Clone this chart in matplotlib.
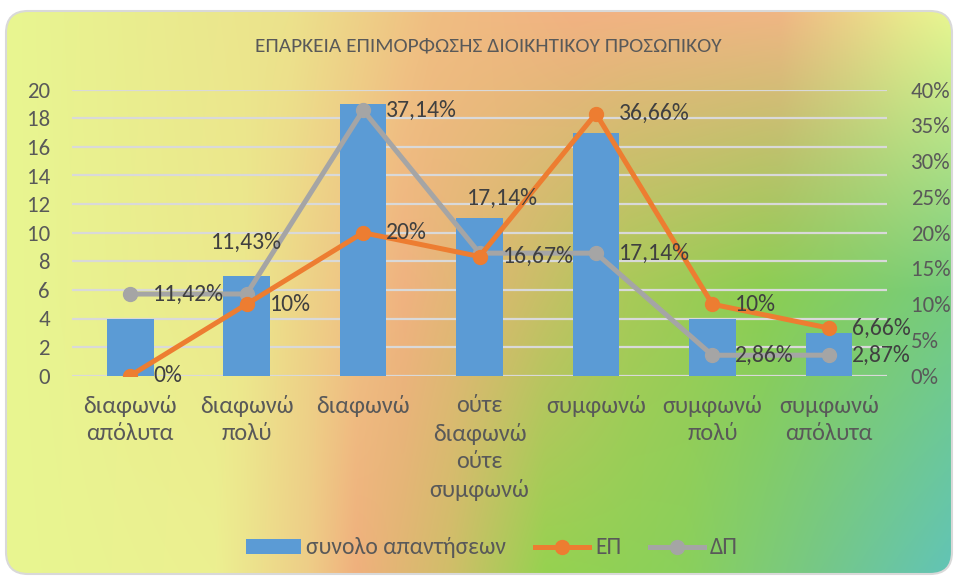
import numpy as np
import matplotlib.pyplot as plt
from matplotlib.patches import FancyBboxPatch

# Data
categories = ["διαφωνώ\nαπόλυτα", "διαφωνώ\nπολύ", "διαφωνώ",
              "ούτε\nδιαφωνώ\nούτε\nσυμφωνώ", "συμφωνώ",
              "συμφωνώ\nπολύ", "συμφωνώ\nαπόλυτα"]
total_answers = [4, 7, 19, 11, 17, 4, 3]
ep_pct = [0, 10, 20, 16.67, 36.66, 10, 6.66]
dp_pct = [11.42, 11.43, 37.14, 17.14, 17.14, 2.86, 2.87]
title = "ΕΠΑΡΚΕΙΑ ΕΠΙΜΟΡΦΩΣΗΣ ΔΙΟΙΚΗΤΙΚΟΥ ΠΡΟΣΩΠΙΚΟΥ"

# label offsets in pixels (dx, dy, ha)
ep_offsets = [(23, 0, "left")] * 7
dp_offsets = [(23, 0, "left"), (0, 52, "center"), (23, 0, "left"),
              (23, 55, "center"), (23, 0, "left"), (23, 0, "left"), (23, 0, "left")]

plt.rcParams['font.family'] = ['Carlito', 'DejaVu Sans']

W, H = 959, 578
fig = plt.figure(figsize=(W / 100, H / 100), dpi=100)
fig.patch.set_facecolor("white")

# --- gradient background in a rounded box ---
bg = fig.add_axes([0, 0, 1, 1])
bg.set_xlim(0, W)
bg.set_ylim(H, 0)
bg.axis("off")

def row(stops):
    xs = [s[0] for s in stops]
    cols = np.array([s[1] for s in stops], dtype=float)
    xx = np.linspace(0, 1, 300)
    return np.stack([np.interp(xx, xs, cols[:, c]) for c in range(3)], axis=1)

top = row([(0.0, (232, 246, 145)), (0.3, (236, 226, 140)), (0.45, (240, 190, 130)),
           (0.6, (242, 178, 130)), (0.82, (240, 182, 132)), (0.95, (234, 232, 140)),
           (1.0, (232, 246, 145))])
mid = row([(0.0, (232, 246, 145)), (0.25, (236, 232, 140)), (0.42, (240, 178, 128)),
           (0.52, (215, 186, 110)), (0.66, (168, 202, 88)), (0.8, (140, 206, 82)),
           (1.0, (118, 204, 125))])
bot = row([(0.0, (232, 246, 145)), (0.22, (236, 240, 145)), (0.32, (238, 205, 135)),
           (0.37, (240, 176, 125)), (0.47, (208, 190, 105)), (0.57, (150, 210, 80)),
           (0.72, (138, 208, 92)), (0.86, (118, 200, 135)), (1.0, (98, 196, 182))])
yy = np.linspace(0, 1, 200)[:, None, None]
w_top = np.clip(1 - 2 * yy, 0, 1)
w_bot = np.clip(2 * yy - 1, 0, 1)
w_mid = 1 - w_top - w_bot
img = (top[None] * w_top + mid[None] * w_mid + bot[None] * w_bot) / 255.0

box = FancyBboxPatch((6, 11), 946, 563, boxstyle="round,pad=0,rounding_size=22",
                     transform=bg.transData, facecolor="none", edgecolor="#d9d9d9", lw=1.5)
im = bg.imshow(img, extent=(6, 952, 574, 11), aspect="auto", interpolation="bilinear")
im.set_clip_path(box)
bg.add_patch(box)

# --- chart ---
ax = fig.add_axes([72 / W, (H - 375.7) / H, (887 - 72) / W, 286 / H])
ax.patch.set_alpha(0)
x = np.arange(len(categories))
ax.bar(x, total_answers, width=0.4, color="#5b9bd5", zorder=2, label="συνολο απαντήσεων")
ax.set_xlim(-0.5, len(categories) - 0.5)
ax.set_ylim(0, 20)
ax.set_yticks(range(0, 21, 2))
ax.yaxis.grid(True, color="#d9d9d9", lw=1.6, zorder=0)
ax.set_axisbelow(True)
for s in ax.spines.values():
    s.set_visible(False)
ax.tick_params(length=0, labelsize=16.5, labelcolor="#595959", pad=16)
ax.tick_params(axis="x", labelsize=17.5, pad=14)
ax.set_xticks(x)
ax.set_xticklabels(categories)
for t in ax.get_xticklabels():
    t.set_linespacing(1.37)

ax2 = ax.twinx()
ax2.set_ylim(0, 40)
ax2.set_yticks(range(0, 41, 5))
ax2.set_yticklabels([f"{v}%" for v in range(0, 41, 5)])
for s in ax2.spines.values():
    s.set_visible(False)
ax2.tick_params(length=0, labelsize=16.5, labelcolor="#595959", pad=17)

ax2.plot(x, ep_pct, color="#ed7d31", lw=3.6, marker="o", ms=10, zorder=4, label="ΕΠ")
ax2.plot(x, dp_pct, color="#a5a5a5", lw=3.6, marker="o", ms=10, zorder=3, label="ΔΠ")

def fmt(v):
    return ("%g" % v).replace(".", ",") + "%"

for vals, offs in ((ep_pct, ep_offsets), (dp_pct, dp_offsets)):
    for xi, v, (dx, dy, ha) in zip(x, vals, offs):
        ax2.annotate(fmt(v), (xi, v), xytext=(dx, dy), textcoords="offset pixels",
                     ha=ha, va="center", fontsize=17, color="#404040", zorder=6)

fig.text(488 / W, 1 - 46 / H, title, ha="center", va="center", fontsize=15.4, color="#595959")

h1, l1 = ax.get_legend_handles_labels()
h2, l2 = ax2.get_legend_handles_labels()
fig.legend(h1 + h2, l1 + l2, loc="center", bbox_to_anchor=(492 / W, 1 - 548 / H),
           ncol=3, frameon=False, fontsize=17, labelcolor="#595959",
           handlelength=2.3, handleheight=0.58, handletextpad=0.25, columnspacing=1.2)

fig.savefig("out.png", dpi=100)
